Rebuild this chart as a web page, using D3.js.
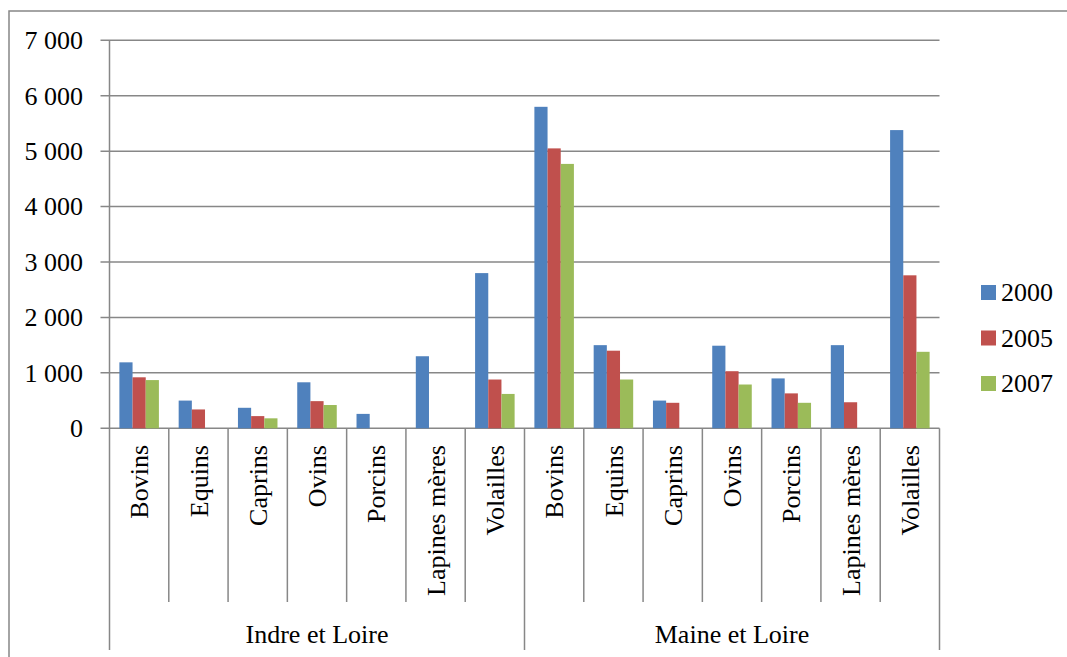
<!DOCTYPE html>
<html>
<head>
<meta charset="utf-8">
<script src="https://cdn.jsdelivr.net/npm/d3@7"></script>
</head>
<body style="margin:0">
<script>
const categories = ["Bovins", "Equins", "Caprins", "Ovins", "Porcins", "Lapines mères", "Volailles"];
const regions = ["Indre et Loire", "Maine et Loire"];
const years = ["2000", "2005", "2007"];
const colors = ["#4F81BD", "#C0504D", "#9BBB59"];

// values per year, region by region in category order
const v2000 = [1190, 500, 370, 830, 260, 1300, 2800, 5800, 1500, 500, 1490, 900, 1500, 5380];
const v2005 = [920, 340, 220, 490, 0, 0, 880, 5050, 1400, 460, 1030, 630, 470, 2760];
const v2007 = [870, 0, 180, 420, 0, 0, 620, 4770, 880, 0, 790, 460, 0, 1380];
const yTicks = [0, 1000, 2000, 3000, 4000, 5000, 6000, 7000];

(function () {
    var width = 1067, height = 657;
    var margin = { top: 40.3, left: 109.5, right: 939.5, bottom: 428.3 };
    var fontFamily = "Liberation Serif";
    var fontSize = 26;
    var lineColor = "#878787";

    var series = [v2000, v2005, v2007];
    var keys = [];
    regions.forEach((r, ri) => categories.forEach((c, ci) => keys.push(ri + "|" + c)));

    var rows = [];
    keys.forEach((k, i) => years.forEach((y, si) => rows.push({ key: k, year: y, si: si, value: series[si][i] })));

    var fr = d3.formatLocale({ decimal: ",", thousands: "\u00a0", grouping: [3], currency: ["", " €"] });
    var fmt = fr.format(",d");

    var svg = d3.select("body").append("svg")
        .attr("width", width)
        .attr("height", height);

    function textStyle(sel) {
        sel.attr("font-family", fontFamily)
            .attr("font-size", fontSize)
            .style("font-family", fontFamily)
            .style("font-size", fontSize + "px")
            .attr("fill", "#000");
    }

    function lineStyle(sel) {
        sel.attr("stroke", lineColor)
            .attr("stroke-width", 1.5);
    }

    // chart frame (right and bottom sides fall outside the picture)
    svg.append("path")
        .call(lineStyle)
        .attr("fill", "none")
        .attr("d", "M9,700 V11 H1100");

    var xScale = d3.scaleBand()
        .domain(keys)
        .range([margin.left, margin.right]);

    var bw = xScale.bandwidth();
    var gap = bw * 0.75 / 4.5;
    var xInner = d3.scaleBand()
        .domain(years)
        .range([gap, bw - gap]);

    var yScale = d3.scaleLinear()
        .domain([0, 7000])
        .range([margin.bottom, margin.top]);

    // gridlines
    svg.append("g")
        .selectAll("line")
        .data(yTicks)
        .enter()
        .append("line")
        .call(lineStyle)
        .attr("x1", margin.left - 9)
        .attr("x2", margin.right)
        .attr("y1", d => yScale(d))
        .attr("y2", d => yScale(d));

    svg.append("g")
        .selectAll("text")
        .data(yTicks)
        .enter()
        .append("text")
        .call(textStyle)
        .attr("x", 83)
        .attr("y", d => yScale(d))
        .attr("dy", "0.34em")
        .attr("text-anchor", "end")
        .text(d => fmt(d));

    // bars
    svg.append("g")
        .selectAll("rect")
        .data(rows.filter(d => d.value > 0))
        .enter()
        .append("rect")
        .attr("x", d => xScale(d.key) + xInner(d.year))
        .attr("width", xInner.bandwidth())
        .attr("y", d => yScale(d.value))
        .attr("height", d => yScale(0) - yScale(d.value))
        .attr("fill", d => colors[d.si]);

    // y axis line
    svg.append("line")
        .call(lineStyle)
        .attr("x1", margin.left).attr("x2", margin.left)
        .attr("y1", margin.top).attr("y2", margin.bottom);

    // category separators
    var bounds = keys.map(k => xScale(k)).concat([margin.right]);
    svg.append("g")
        .selectAll("line")
        .data(bounds)
        .enter()
        .append("line")
        .call(lineStyle)
        .attr("x1", d => d).attr("x2", d => d)
        .attr("y1", margin.bottom)
        .attr("y2", (d, i) => (i % categories.length == 0) ? 650 : 602);

    svg.append("g")
        .selectAll("text")
        .data(keys)
        .enter()
        .append("text")
        .call(textStyle)
        .attr("transform", d => `translate(${xScale(d) + bw / 2}, 445) rotate(-90)`)
        .attr("dy", "0.35em")
        .attr("text-anchor", "end")
        .text(d => d.split("|")[1]);

    svg.append("g")
        .selectAll("text")
        .data(regions)
        .enter()
        .append("text")
        .call(textStyle)
        .attr("x", (d, i) => (xScale(i + "|" + categories[0]) + (i == 0 ? xScale("1|" + categories[0]) : margin.right)) / 2)
        .attr("y", 643)
        .attr("text-anchor", "middle")
        .text(d => d);

    // legend
    var legend = svg.append("g")
        .selectAll("g")
        .data(years)
        .enter()
        .append("g")
        .attr("transform", (d, i) => `translate(981, ${292.5 + i * 45.5})`);

    legend.append("rect")
        .attr("x", 0).attr("y", -7.5)
        .attr("width", 15).attr("height", 15)
        .attr("fill", (d, i) => colors[i]);

    legend.append("text")
        .call(textStyle)
        .attr("x", 20)
        .attr("dy", "0.34em")
        .text(d => d);
})();
</script>
</body>
</html>
